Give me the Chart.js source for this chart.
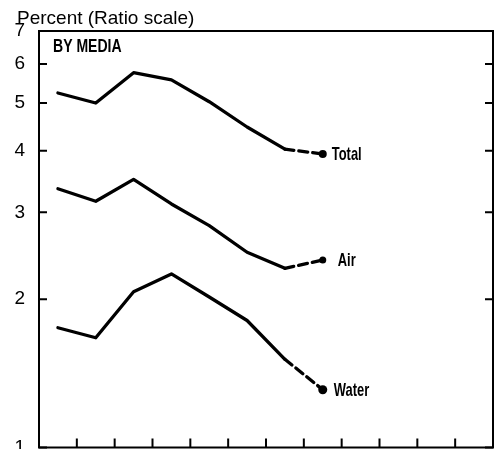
<!DOCTYPE html>
<html>
<head>
<meta charset="utf-8">
<script src="https://cdn.jsdelivr.net/npm/chart.js@4/dist/chart.umd.min.js"></script>
<style>
  html, body { margin: 0; background: #fff; overflow: hidden; }
  canvas { display: block; }
</style>
</head>
<body>
<!-- a few px taller than the window: Chart.js keeps a small gap under the axis -->
<canvas id="chart" width="499" height="452"></canvas>
<script>
// 12 periods on the x axis, data for the first 8
const categories = ['1', '2', '3', '4', '5', '6', '7', '8', '9', '10', '11', '12'];
const totalValues = [5.24, 5.0, 5.76, 5.57, 5.03, 4.47, 4.03, 3.94];
const airValues = [3.35, 3.16, 3.5, 3.12, 2.82, 2.49, 2.31, 2.40];
const waterValues = [1.75, 1.67, 2.07, 2.25, 2.02, 1.81, 1.51, 1.31];
const yTicks = [1, 2, 3, 4, 5, 6, 7];

const sans = '"Liberation Sans", Arial, sans-serif';

function series(label, values, dotRadius) {
    const last = values.length - 1;
    return {
        label: label,
        data: values,
        borderColor: '#000',
        backgroundColor: '#000',
        borderWidth: 3.3,
        borderCapStyle: 'round',
        borderJoinStyle: 'round',
        pointRadius: values.map((v, i) => i === last ? dotRadius : 0),
        pointBorderWidth: 0,
        segment: {
            // last year is an estimate: dashed
            borderDash: ctx => ctx.p1DataIndex === last ? [9, 5] : undefined
        }
    };
}

// condensed bold text: squeeze a bold sans horizontally
function narrowText(ctx, text, x, y, size, squeeze) {
    ctx.save();
    ctx.font = 'bold ' + size + 'px ' + sans;
    ctx.translate(x, y);
    ctx.scale(squeeze, 1);
    ctx.fillText(text, 0, 0);
    ctx.restore();
}

// frame, inward tick marks and the text labels
const frame = {
    id: 'frame',
    afterDraw(chart) {
        const ctx = chart.ctx;
        const a = chart.chartArea;
        const x = chart.scales.x;
        const y = chart.scales.y;
        ctx.save();
        ctx.strokeStyle = '#000';
        ctx.lineWidth = 2;
        ctx.strokeRect(a.left, a.top, a.right - a.left, a.bottom - a.top);

        ctx.beginPath();
        yTicks.forEach(v => {
            const py = y.getPixelForValue(v);
            ctx.moveTo(a.left, py); ctx.lineTo(a.left + 8, py);
            ctx.moveTo(a.right, py); ctx.lineTo(a.right - 8, py);
        });
        for (let i = 1; i < categories.length; i++) {
            const px = (x.getPixelForValue(i - 1) + x.getPixelForValue(i)) / 2;
            ctx.moveTo(px, a.bottom); ctx.lineTo(px, a.bottom - 9);
        }
        ctx.stroke();

        ctx.fillStyle = '#000';
        ctx.textBaseline = 'middle';
        ctx.textAlign = 'left';
        ctx.font = '19px ' + sans;
        ctx.fillText('Percent (Ratio scale)', 17, 19);

        narrowText(ctx, 'BY MEDIA', a.left + 14, a.top + 16, 18, 0.78);

        const labels = [
            ['Total', totalValues, 9],
            ['Air', airValues, 15],
            ['Water', waterValues, 11]
        ];
        labels.forEach(([text, values, dx]) => {
            const i = values.length - 1;
            narrowText(ctx, text, x.getPixelForValue(i) + dx, y.getPixelForValue(values[i]) + 1, 19, 0.68);
        });
        ctx.restore();
    }
};

new Chart(document.getElementById('chart'), {
    type: 'line',
    data: {
        labels: categories,
        datasets: [
            series('Total', totalValues, 4),
            series('Air', airValues, 3.5),
            series('Water', waterValues, 4.5)
        ]
    },
    options: {
        responsive: false,
        animation: false,
        layout: { padding: { top: 31, right: 6, bottom: 0, left: 0 } },
        plugins: {
            legend: { display: false },
            tooltip: { enabled: false }
        },
        scales: {
            x: {
                type: 'category',
                offset: true,
                ticks: { display: false },
                grid: { display: false },
                border: { display: false },
                afterFit: s => { s.height = 0; }
            },
            y: {
                type: 'logarithmic',
                min: 1,
                max: 7,
                afterBuildTicks: s => { s.ticks = yTicks.map(v => ({ value: v })); },
                ticks: {
                    color: '#000',
                    padding: 6,
                    font: { size: 19, family: sans },
                    callback: v => String(v)
                },
                grid: { display: false },
                border: { display: false },
                afterFit: s => {
                    s.width = 39;
                    s.paddingTop = 0;
                    s.paddingBottom = 0;
                }
            }
        }
    },
    plugins: [frame]
});
</script>
</body>
</html>
